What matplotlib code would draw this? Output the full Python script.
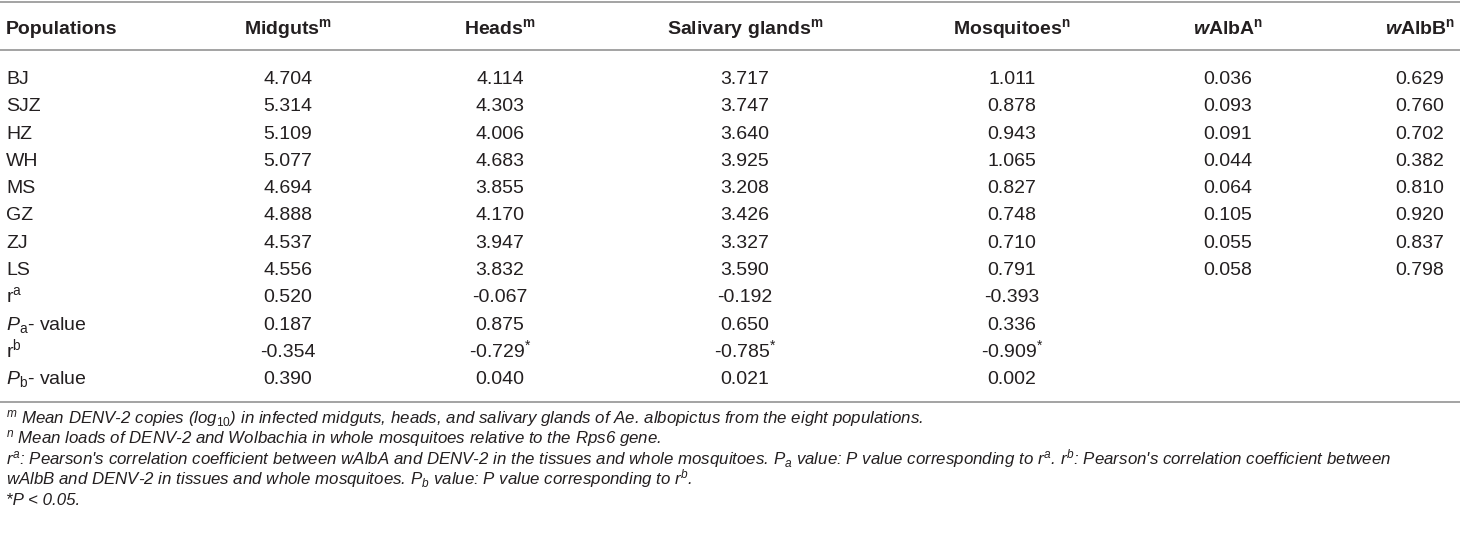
import matplotlib
matplotlib.use("Agg")
import matplotlib.pyplot as plt

# fonts
plt.rcParams["font.family"] = ["Liberation Sans", "DejaVu Sans"]
plt.rcParams["mathtext.fontset"] = "custom"
plt.rcParams["mathtext.rm"] = "Liberation Sans"
plt.rcParams["mathtext.it"] = "Liberation Sans:italic"
plt.rcParams["mathtext.bf"] = "Liberation Sans:bold"
plt.rcParams["mathtext.bfit"] = "Liberation Sans:italic:bold"

# table data
headers = ["Populations", r"Midguts$^{\mathbf{m}}$", r"Heads$^{\mathbf{m}}$",
           r"Salivary glands$^{\mathbf{m}}$", r"Mosquitoes$^{\mathbf{n}}$",
           r"$\mathbfit{w}$AlbA$^{\mathbf{n}}$", r"$\mathbfit{w}$AlbB$^{\mathbf{n}}$"]
populations = ["BJ", "SJZ", "HZ", "WH", "MS", "GZ", "ZJ", "LS"]
midguts = [4.704, 5.314, 5.109, 5.077, 4.694, 4.888, 4.537, 4.556]
heads = [4.114, 4.303, 4.006, 4.683, 3.855, 4.170, 3.947, 3.832]
salivary = [3.717, 3.747, 3.640, 3.925, 3.208, 3.426, 3.327, 3.590]
mosquitoes = [1.011, 0.878, 0.943, 1.065, 0.827, 0.748, 0.710, 0.791]
walba = [0.036, 0.093, 0.091, 0.044, 0.064, 0.105, 0.055, 0.058]
walbb = [0.629, 0.760, 0.702, 0.382, 0.810, 0.920, 0.837, 0.798]

stat_labels = [r"r$^{\mathrm{a}}$", r"$P_{\mathrm{a}}$- value",
               r"r$^{\mathrm{b}}$", r"$P_{\mathrm{b}}$- value"]
r_a = ["0.520", "-0.067", "-0.192", "-0.393"]
p_a = ["0.187", "0.875", "0.650", "0.336"]
r_b = ["-0.354", "-0.729$^{*}$", "-0.785$^{*}$", "-0.909$^{*}$"]
p_b = ["0.390", "0.040", "0.021", "0.002"]

footnotes = [
    r"$^{m}$ Mean DENV-2 copies (log$_{\mathit{10}}$) in infected midguts, heads, and salivary glands of Ae. albopictus from the eight populations.",
    r"$^{n}$ Mean loads of DENV-2 and Wolbachia in whole mosquitoes relative to the Rps6 gene.",
    r"$r^{a}$: Pearson's correlation coefficient between wAlbA and DENV-2 in the tissues and whole mosquitoes. $P_{a}$ value: P value corresponding to $r^{a}$. $r^{b}$: Pearson's correlation coefficient between",
    r"wAlbB and DENV-2 in tissues and whole mosquitoes. $P_{b}$ value: P value corresponding to $r^{b}$.",
    r"*P < 0.05.",
]

# layout (pixels)
col_x = [6, 288, 500, 745, 1012, 1228, 1420]
header_y = 27
row_y0, row_step = 77, 27.3
foot_y0, foot_step = 417, 20.5
txt = "#231f20"
line_c = "#a3a3a3"
body_fs = 14
foot_fs = 12.2

fig = plt.figure(figsize=(14.6, 5.33), dpi=100)
ax = fig.add_axes([0, 0, 1, 1])
ax.set_xlim(0, 1460)
ax.set_ylim(533, 0)
ax.axis("off")

# rules
for y in [1.5, 50, 402]:
    ax.axhline(y, color=line_c, lw=1.4)

def put(x, y, s, ha="center", **kw):
    ax.text(x, y + 7, s, ha=ha, va="baseline", color=txt, fontsize=body_fs, **kw)

# header
for i, h in enumerate(headers):
    put(col_x[i], header_y, h, ha="left" if i == 0 else "center", fontweight="bold")

# population rows
cols = [midguts, heads, salivary, mosquitoes, walba, walbb]
for r, name in enumerate(populations):
    y = row_y0 + r * row_step
    put(col_x[0], y, name, ha="left")
    for c, vals in enumerate(cols):
        put(col_x[c + 1], y, f"{vals[r]:.3f}")

# correlation rows
for k, (lab, vals) in enumerate(zip(stat_labels, [r_a, p_a, r_b, p_b])):
    y = row_y0 + (len(populations) + k) * row_step
    put(col_x[0], y, lab, ha="left")
    for c, v in enumerate(vals):
        put(col_x[c + 1], y, v)

# footnotes
for k, f in enumerate(footnotes):
    y = foot_y0 + k * foot_step
    ax.text(6, y + 6, f, ha="left", va="baseline", color=txt,
            fontsize=foot_fs, fontstyle="italic")

fig.savefig("out.png", dpi=100, facecolor="white")
